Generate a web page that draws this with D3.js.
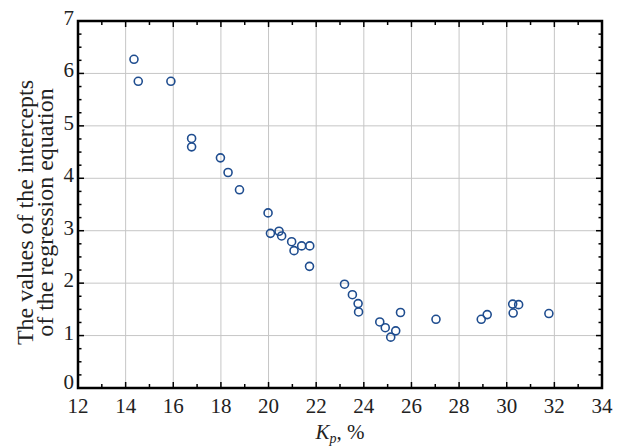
<!DOCTYPE html>
<html><head><meta charset="utf-8">
<script src="https://cdn.jsdelivr.net/npm/d3@7"></script>
<style>body{margin:0;background:#fff}svg{display:block}svg text{font-family:"Liberation Serif","DejaVu Serif",serif}</style>
</head><body>
<script>
const kp = [14.35,14.53,15.90,16.77,16.77,17.98,18.30,18.78,19.98,20.08,20.44,20.55,20.97,21.07,21.39,21.73,21.72,23.19,23.52,23.76,23.78,24.67,24.90,25.13,25.34,25.54,27.03,28.93,29.18,30.25,30.27,30.50,31.77];
const intercepts = [6.27,5.85,5.85,4.76,4.60,4.39,4.11,3.78,3.34,2.95,2.99,2.90,2.79,2.62,2.71,2.71,2.32,1.98,1.78,1.61,1.45,1.26,1.15,0.97,1.09,1.44,1.31,1.31,1.40,1.60,1.43,1.59,1.42];
const xTicks = [12,14,16,18,20,22,24,26,28,30,32,34];
const yTicks = [0,1,2,3,4,5,6,7];

const W=639,H=447, L=78,R=602,T=21,B=388;
const svg=d3.select("body").append("svg").attr("width",W).attr("height",H);
const x=d3.scaleLinear().domain([12,34]).range([L,R]);
const y=d3.scaleLinear().domain([0,7]).range([B,T]);

// grid
svg.append("g").selectAll("line").data(xTicks.slice(1,-1)).join("line")
  .attr("x1",d=>x(d)).attr("x2",d=>x(d)).attr("y1",T).attr("y2",B)
  .attr("stroke","#c6c6c6").attr("stroke-width",1);
svg.append("g").selectAll("line").data(yTicks.slice(1,-1)).join("line")
  .attr("y1",d=>y(d)).attr("y2",d=>y(d)).attr("x1",L).attr("x2",R)
  .attr("stroke","#c6c6c6").attr("stroke-width",1);

// inside ticks
const xMinor=d3.range(12,34.01,1), yMinor=d3.range(0,7.01,0.25);
const tk=svg.append("g").attr("stroke","#000").attr("stroke-width",1.5);
xMinor.forEach(v=>{const len=(v%2===0)?6:4;
  tk.append("line").attr("x1",x(v)).attr("x2",x(v)).attr("y1",B).attr("y2",B-len);
  tk.append("line").attr("x1",x(v)).attr("x2",x(v)).attr("y1",T).attr("y2",T+len);});
yMinor.forEach(v=>{const len=(Math.abs(v-Math.round(v))<1e-9)?6:3.5;
  tk.append("line").attr("y1",y(v)).attr("y2",y(v)).attr("x1",L).attr("x2",L+len);
  tk.append("line").attr("y1",y(v)).attr("y2",y(v)).attr("x1",R).attr("x2",R-len);});

// frame
svg.append("rect").attr("x",L).attr("y",T).attr("width",R-L).attr("height",B-T)
  .attr("fill","none").attr("stroke","#000").attr("stroke-width",2.5);

// tick labels
svg.append("g").selectAll("text").data(xTicks).join("text")
  .attr("x",d=>x(d)).attr("y",B+25).attr("text-anchor","middle")
  .attr("font-size",21).attr("fill","#222").text(d=>d);
svg.append("g").selectAll("text").data(yTicks).join("text")
  .attr("x",L-4).attr("y",d=>y(d)+(d===0?1:4)).attr("text-anchor","end")
  .attr("font-size",21).attr("fill","#222").text(d=>d);

// axis titles
const xt=svg.append("text").attr("x",(L+R)/2).attr("y",439).attr("text-anchor","middle")
  .attr("font-size",21).attr("fill","#222");
xt.append("tspan").attr("font-style","italic").text("K");
xt.append("tspan").attr("font-style","italic").attr("font-size",14).attr("dy",4).text("p");
xt.append("tspan").attr("dy",-4).text(", %");

const yt=svg.append("text").attr("transform","translate(0,"+((T+B)/2+8)+") rotate(-90)")
  .attr("text-anchor","middle").attr("font-size",24).attr("fill","#222");
yt.append("tspan").attr("x",0).attr("y",33).text("The values of the intercepts");
yt.append("tspan").attr("x",0).attr("y",53).text("of the regression equation");

// points
svg.append("g").selectAll("circle").data(kp.map((k,i)=>[k,intercepts[i]])).join("circle")
  .attr("cx",d=>x(d[0])).attr("cy",d=>y(d[1])).attr("r",4)
  .attr("fill","none").attr("stroke","#1f4d8f").attr("stroke-width",1.6);
</script>
</body></html>
